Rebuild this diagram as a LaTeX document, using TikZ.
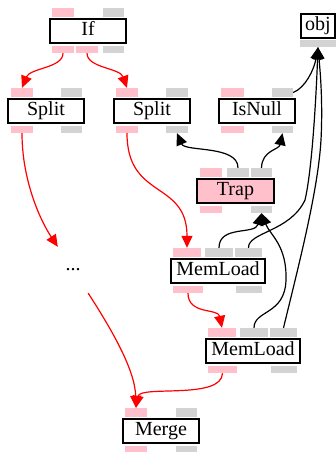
\documentclass[tikz,border=0pt]{standalone}
\usepackage{fontspec}
\setmainfont{Liberation Serif}
\usetikzlibrary{arrows.meta}
\definecolor{portpink}{RGB}{255,192,203}
\definecolor{portgray}{RGB}{211,211,211}
\definecolor{edgered}{RGB}{255,0,0}
\newcommand\myport[6]{%
  \node[#1, minimum width={(#4)-(#3)}, minimum height={(#6)-(#5)}] (#2) at ({((#3)+(#4))/2},{((#5)+(#6))/2}) {};}
\newcommand\mybox[7]{%
  \node[#1, minimum width={(#4)-(#3)}, minimum height={(#6)-(#5)}] (#2) at ({((#3)+(#4))/2},{((#5)+(#6))/2}) {#7};}
\begin{document}
\begin{tikzpicture}[x=1pt,y=-1pt,
  opbox/.style={draw=black, line width=1.4pt, fill=white, inner sep=0pt,
    font=\fontsize{20}{22}\selectfont, text height=13.5pt, text depth=5pt},
  trapbox/.style={opbox, fill=portpink},
  pp/.style={fill=portpink, inner sep=0pt, draw=none},
  gp/.style={fill=portgray, inner sep=0pt, draw=none},
  redE/.style={draw=edgered, line width=1.2pt, -{Triangle[length=12pt,width=11pt]}},
  blkE/.style={draw=black, line width=1.2pt, -{Triangle[length=12pt,width=11pt]}},
  dotsnode/.style={inner sep=0pt, font=\fontsize{20}{22}\selectfont}
]
\useasboundingbox (0,0) rectangle (336,452);
% If
\mybox{opbox}{If}{50}{126}{19}{43}{If}
\myport{pp}{If-i1}{52}{74}{8}{17}
\myport{gp}{If-i2}{103}{124}{8}{17}
\myport{pp}{If-o1}{52}{74}{46}{53}
\myport{pp}{If-o2}{76}{98}{46}{53}
\myport{gp}{If-o3}{103}{124}{46}{53}
% Split 1
\mybox{opbox}{S1}{8}{84}{99}{123}{Split}
\myport{pp}{S1-i1}{11}{33}{88}{97}
\myport{gp}{S1-i2}{61}{82}{88}{97}
\myport{pp}{S1-o1}{11}{33}{126}{133}
\myport{gp}{S1-o2}{61}{82}{126}{133}
% Split 2
\mybox{opbox}{S2}{114}{190}{99}{123}{Split}
\myport{pp}{S2-i1}{116}{138}{88}{97}
\myport{gp}{S2-i2}{166}{188}{88}{97}
\myport{pp}{S2-o1}{116}{138}{126}{133}
\myport{gp}{S2-o2}{166}{188}{126}{133}
% IsNull
\mybox{opbox}{IN}{219}{295}{99}{123}{IsNull}
\myport{pp}{IN-i1}{221}{244}{88}{97}
\myport{gp}{IN-i2}{272}{293}{88}{97}
\myport{pp}{IN-o1}{221}{244}{126}{133}
\myport{gp}{IN-o2}{272}{293}{126}{133}
% obj
\mybox{opbox}{obj}{301}{335}{14}{38}{obj}
\myport{gp}{obj-o1}{300}{336}{40}{47}
% Trap
\mybox{trapbox}{T}{197}{274}{179}{203}{Trap}
\myport{pp}{T-i1}{200}{222}{168}{177}
\myport{gp}{T-i2}{227}{249}{168}{177}
\myport{gp}{T-i3}{251}{272}{168}{177}
\myport{pp}{T-o1}{200}{222}{206}{213}
\myport{gp}{T-o2}{251}{272}{206}{213}
% MemLoad 1
\mybox{opbox}{M1}{171}{265}{259}{283}{MemLoad}
\myport{pp}{M1-i1}{173}{201}{248}{257}
\myport{gp}{M1-i2}{205}{233}{248}{257}
\myport{gp}{M1-i3}{235}{262}{248}{257}
\myport{pp}{M1-o1}{173}{203}{286}{293}
\myport{gp}{M1-o2}{236}{262}{286}{293}
% MemLoad 2
\mybox{opbox}{M2}{206}{300}{339}{363}{MemLoad}
\myport{pp}{M2-i1}{208}{236}{328}{337}
\myport{gp}{M2-i2}{240}{268}{328}{337}
\myport{gp}{M2-i3}{270}{297}{328}{337}
\myport{pp}{M2-o1}{208}{237}{366}{373}
\myport{gp}{M2-o2}{271}{297}{366}{373}
% Merge
\mybox{opbox}{Mg}{123}{199}{419}{443}{Merge}
\myport{pp}{Mg-i1}{125}{147}{408}{417}
\myport{gp}{Mg-i2}{176}{197}{408}{417}
\myport{pp}{Mg-o1}{125}{147}{446}{453}
\myport{gp}{Mg-o2}{176}{197}{446}{453}
% dots
\node[dotsnode, minimum width=30pt, minimum height=46pt] (dots) at (73,270) {...};
% red edges
\draw[redE] (If-o1.south) .. controls (63,68) and (30,68) .. (S1-i1.north);
\draw[redE] (If-o2.south) .. controls (87,68) and (120,68) .. (S2-i1.north);
\draw[redE] (S1-o1.south) .. controls (22,180) and (40,220) .. (dots.north west);
\draw[redE] (dots.south east) .. controls (112,330) and (135,370) .. (Mg-i1.north);
\draw[redE] (S2-o1.south) .. controls (127,200) and (187,180) .. (M1-i1.north);
\draw[redE] (M1-o1.south) .. controls (188,315) and (218,308) .. (M2-i1.north);
\draw[redE] (M2-o1.south) .. controls (222,400) and (140,385) .. (Mg-i1.north);
% black edges
\draw[blkE] (T-i2.north) .. controls (238,145) and (185,152) .. (S2-o2.south);
\draw[blkE] (T-i3.north) .. controls (262,150) and (279,150) .. (IN-o2.south);
\draw[blkE] (IN-i2.east) .. controls (305,88) and (314,70) .. (obj-o1.south);
\draw[blkE] (M1-i2.north) .. controls (219,225) and (255,235) .. (T-o2.south);
\draw[blkE] (M1-i3.north) .. controls (248,232) and (290,232) .. (305,200) .. controls (312,170) and (316,100) .. (obj-o1.south);
\draw[blkE] (M2-i2.north) .. controls (254,310) and (285,315) .. (286,280) .. controls (287,245) and (270,235) .. (T-o2.south);
\draw[blkE] (M2-i3.north) .. controls (300,260) and (318,190) .. (321,140) .. controls (323,100) and (320,70) .. (obj-o1.south);
\end{tikzpicture}
\end{document}
